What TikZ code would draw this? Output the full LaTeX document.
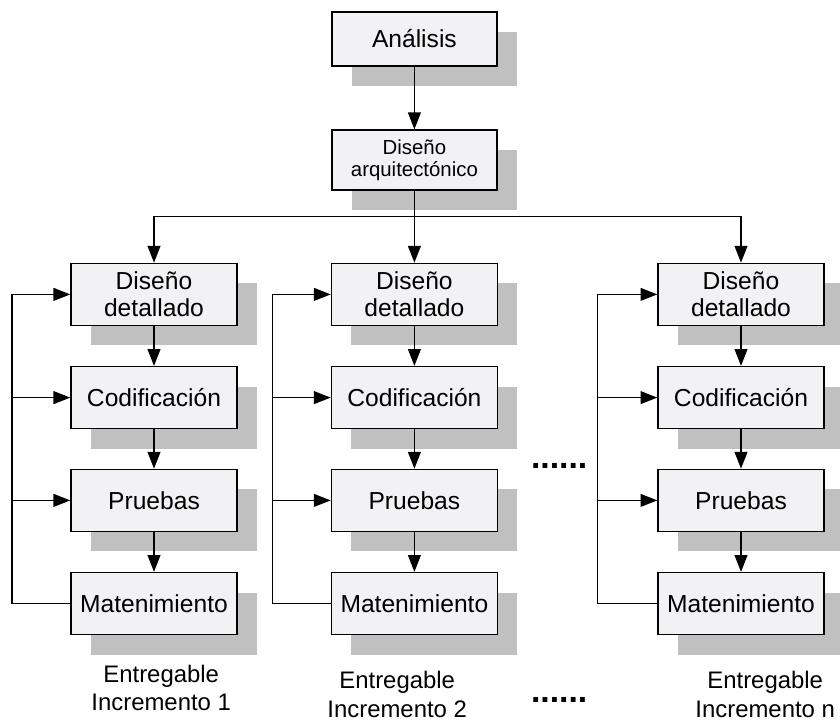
\documentclass[tikz,border=0pt]{standalone}
\usepackage{fontspec}
\setmainfont{Liberation Sans}
\usepackage{xcolor}
\usetikzlibrary{arrows.meta, positioning, shadows}

\definecolor{boxfill}{RGB}{242,242,244}
\definecolor{shadowgray}{RGB}{192,192,192}

\begin{document}
\begin{tikzpicture}[
    % Boxes
    phase/.style={rectangle, draw=black, line width=1pt, fill=boxfill, minimum width=4.15cm, minimum height=1.55cm, inner sep=0pt, align=center, font=\fontsize{17.5}{19.5}\selectfont, drop shadow={shadow xshift=0.5cm, shadow yshift=-0.5cm, fill=shadowgray, opacity=1}},
    % Connectors
    flow/.style={line width=1pt, -{Triangle[length=0.42cm, width=0.32cm]}},
    % Texts
    deliver/.style={align=center, font=\fontsize{17}{20}\selectfont},
    gap/.style={font=\fontsize{24}{24}\selectfont\bfseries, inner sep=0pt}
]
    \useasboundingbox (0,0) rectangle (21,-18.075);

    % Top of the process
    \node[phase, minimum width=4.125cm, minimum height=1.35cm] (ana) at (10.36,-0.975) {Análisis};
    \node[phase, minimum width=4.125cm, minimum height=1.5cm, font=\fontsize{14.5}{15.5}\selectfont] (arq) at (10.36,-4.0) {Diseño\\arquitectónico};

    % Increment 1
    \node[phase] (dd1) at (3.85,-7.36) {Diseño\\detallado};
    \node[phase] (cod1) at (3.85,-9.94) {Codificación};
    \node[phase] (pru1) at (3.85,-12.51) {Pruebas};
    \node[phase] (mant1) at (3.85,-15.09) {Matenimiento};

    % Increment 2
    \node[phase] (dd2) at (10.36,-7.36) {Diseño\\detallado};
    \node[phase] (cod2) at (10.36,-9.94) {Codificación};
    \node[phase] (pru2) at (10.36,-12.51) {Pruebas};
    \node[phase] (mant2) at (10.36,-15.09) {Matenimiento};

    % Increment n
    \node[phase] (dd3) at (18.525,-7.36) {Diseño\\detallado};
    \node[phase] (cod3) at (18.525,-9.94) {Codificación};
    \node[phase] (pru3) at (18.525,-12.51) {Pruebas};
    \node[phase] (mant3) at (18.525,-15.09) {Matenimiento};

    % Deliverables
    \node[deliver] (ent1) at (4.03,-17.2) {Entregable\\Incremento 1};
    \node[deliver] (ent2) at (9.93,-17.36) {Entregable\\Incremento 2};
    \node[deliver] (ent3) at (19.13,-17.36) {Entregable\\Incremento n};
    \node[gap] (gapmid) at (13.98,-11.65) {......};
    \node[gap] (gapbot) at (13.98,-17.5) {......};

    % Split and feedback points
    \coordinate (split) at (10.36,-5.41);
    \coordinate (fb1) at (0.3,-7.36);
    \coordinate (fb2) at (6.81,-7.36);
    \coordinate (fb3) at (14.94,-7.36);

    % Main flow
    \draw[flow] (ana) -- (arq);
    \draw[flow] (arq) -- (dd2);
    \draw[flow] (split) -| (dd1.north);
    \draw[flow] (split) -| (dd3.north);

    % Phases inside each increment
    \draw[flow] (dd1) -- (cod1);
    \draw[flow] (cod1) -- (pru1);
    \draw[flow] (pru1) -- (mant1);
    \draw[flow] (dd2) -- (cod2);
    \draw[flow] (cod2) -- (pru2);
    \draw[flow] (pru2) -- (mant2);
    \draw[flow] (dd3) -- (cod3);
    \draw[flow] (cod3) -- (pru3);
    \draw[flow] (pru3) -- (mant3);

    % Feedback loops
    \draw[flow] (mant1.west) -| (fb1) -- (dd1.west);
    \draw[flow] (cod1.west -| fb1) -- (cod1.west);
    \draw[flow] (pru1.west -| fb1) -- (pru1.west);
    \draw[flow] (mant2.west) -| (fb2) -- (dd2.west);
    \draw[flow] (cod2.west -| fb2) -- (cod2.west);
    \draw[flow] (pru2.west -| fb2) -- (pru2.west);
    \draw[flow] (mant3.west) -| (fb3) -- (dd3.west);
    \draw[flow] (cod3.west -| fb3) -- (cod3.west);
    \draw[flow] (pru3.west -| fb3) -- (pru3.west);
\end{tikzpicture}
\end{document}
